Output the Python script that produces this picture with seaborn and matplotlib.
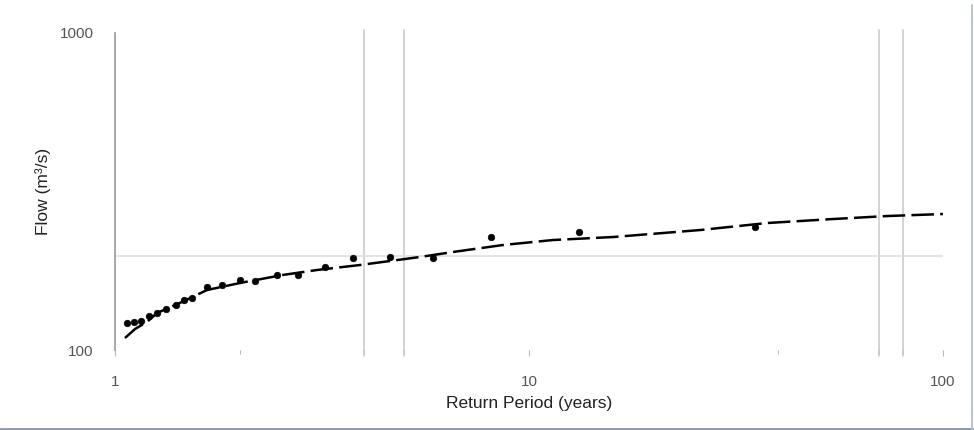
import numpy as np
import pandas as pd
import matplotlib
matplotlib.use("Agg")
import matplotlib.pyplot as plt
from matplotlib.ticker import FixedLocator, NullFormatter, FixedFormatter
from matplotlib.lines import Line2D
import seaborn as sns

# Observed annual peak flows (return period in years, flow in m3/s)
obs_period = [1.069, 1.111, 1.156, 1.208, 1.263, 1.328, 1.404, 1.468, 1.535, 1.668,
              1.813, 2.004, 2.178, 2.462, 2.767, 3.215, 3.757, 4.616, 5.864, 8.093,
              13.21, 35.15]
obs_flow = [121.7, 122.6, 123.5, 128.0, 130.8, 134.7, 138.7, 143.8, 145.9, 158.0,
            160.3, 166.3, 165.1, 172.4, 172.4, 182.7, 195.1, 196.5, 195.1, 227.2,
            235.6, 244.4]

# Fitted frequency curve
fit_period = [1.057, 1.118, 1.195, 1.263, 1.451, 1.668, 2.004, 2.546, 3.075, 3.906,
              5.455, 6.553, 8.653, 11.43, 15.96, 25.88, 37.58, 54.2, 73.2, 100.0]
fit_flow = [109.1, 116.5, 122.6, 130.8, 141.7, 154.6, 162.7, 172.5, 178.8, 185.4,
            196.5, 203.8, 214.4, 222.3, 227.2, 239.0, 251.5, 258.9, 264.6, 268.5]

# Reference lines
ref_periods = [4, 5, 70, 80]
ref_flow = 198

major_ticks = [1, 10, 100]
major_labels = ["1", "10", "100"]
minor_ticks = [2, 4, 5, 40, 70, 80]
y_ticks = [100, 1000]
y_labels = ["100", "1000"]

obs = pd.DataFrame({"period": obs_period, "flow": obs_flow})
fit = pd.DataFrame({"period": fit_period, "flow": fit_flow})

sns.set_style("white")
plt.rcParams["font.family"] = ["Liberation Sans", "DejaVu Sans"]

fig = plt.figure(figsize=(9.74, 4.30), dpi=100)
ax = fig.add_axes([115 / 974, 1 - 350 / 430, (943 - 115) / 974, (350 - 33) / 430])

ax.set_xscale("log")
ax.set_yscale("log")
ax.set_xlim(1, 100)
ax.set_ylim(100, 1000)

grid_c = "#c8c8c8"
for p in ref_periods:
    ax.axvline(p, ymin=-0.02, ymax=1.01, color=grid_c, lw=1.1, clip_on=False, zorder=1)
ax.axhline(ref_flow, color="#dddddd", lw=1.1, zorder=1)

sns.lineplot(data=fit, x="period", y="flow", ax=ax, color="black", lw=1.8,
             dashes=False, zorder=3)
ax.lines[-1].set_dashes((9, 2.5))
sns.scatterplot(data=obs, x="period", y="flow", ax=ax, color="black", s=22,
                marker="o", edgecolor="black", linewidth=0.5, zorder=4)

for s in ["top", "right", "bottom"]:
    ax.spines[s].set_visible(False)
ax.spines["left"].set_color("#999999")
ax.spines["left"].set_linewidth(1.2)
ax.spines["left"].set_bounds(100, 1000)

ax.xaxis.set_major_locator(FixedLocator(major_ticks))
ax.xaxis.set_major_formatter(FixedFormatter(major_labels))
ax.xaxis.set_minor_locator(FixedLocator(minor_ticks))
ax.xaxis.set_minor_formatter(NullFormatter())
ax.yaxis.set_major_locator(FixedLocator(y_ticks))
ax.yaxis.set_major_formatter(FixedFormatter(y_labels))
ax.yaxis.set_minor_locator(FixedLocator([]))

ax.tick_params(axis="x", which="both", direction="out", length=4, width=0.8,
               color="#bbbbbb", labelsize=11, labelcolor="#555555", pad=14, bottom=True)
ax.tick_params(axis="x", which="minor", length=3, pad=14)
ax.tick_params(axis="y", which="both", left=False, labelsize=11,
               labelcolor="#555555", pad=12)

ax.set_xlabel("Return Period (years)", fontsize=12.5, color="#222222", labelpad=5)
ax.set_ylabel("Flow (m\u00b3/s)", fontsize=12.5, color="#222222", labelpad=6)

# frame edges of the original picture
fig.add_artist(Line2D([0, 1], [1.5 / 430, 1.5 / 430], transform=fig.transFigure,
                      color="#8a96a8", lw=2))
fig.add_artist(Line2D([972 / 974, 972 / 974], [0, 1 - 5 / 430], transform=fig.transFigure,
                      color="#b0b8c4", lw=1.2))

fig.savefig("out.png", dpi=100)
